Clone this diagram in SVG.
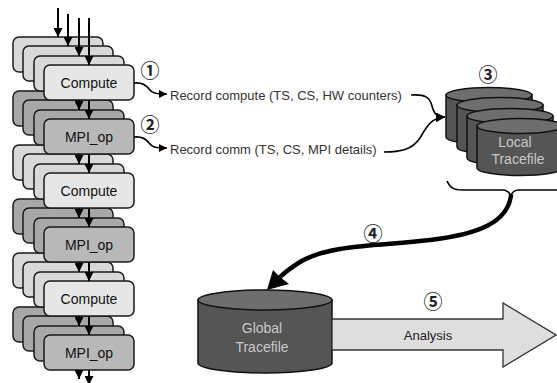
<svg xmlns="http://www.w3.org/2000/svg" width="557" height="383" viewBox="0 0 557 383">
<style>
.cb{fill:#d9d9d9;stroke:#1a1a1a;stroke-width:1.5}
.cf{fill:#e6e6e6;stroke:#1a1a1a;stroke-width:1.5}
.mb{fill:#a8a8a8;stroke:#1a1a1a;stroke-width:1.5}
.mf{fill:#b8b8b8;stroke:#1a1a1a;stroke-width:1.5}
.lbl{font-family:"Liberation Sans",Arial,sans-serif;font-size:14px;fill:#111;text-anchor:middle}
.rec{font-family:"Liberation Sans",Arial,sans-serif;font-size:13px;fill:#333}
.num{font-family:"Noto Sans CJK SC","DejaVu Sans",sans-serif;font-size:19px;font-weight:bold;fill:#222;text-anchor:middle;dominant-baseline:central}
.cyl{fill:#555;stroke:#111;stroke-width:1.5}
.cylt{fill:#6e6e6e;stroke:#111;stroke-width:1.5}
.ct{font-family:"Liberation Sans",Arial,sans-serif;font-size:14px;fill:#c8c8c8;text-anchor:middle}
.ar{stroke:#000;stroke-width:2;fill:none;marker-end:url(#ah)}
.thin{stroke:#000;stroke-width:1.6;fill:none}
</style>
<defs>
<marker id="ah" markerUnits="userSpaceOnUse" markerWidth="9" markerHeight="9" viewBox="0 0 10 10" refX="10" refY="5" orient="auto"><path d="M0,0L10,5L0,10z" fill="#000"/></marker>
<marker id="sh" markerUnits="userSpaceOnUse" markerWidth="8" markerHeight="8" viewBox="0 0 10 10" refX="10" refY="5" orient="auto"><path d="M0,0L10,5L0,10z" fill="#000"/></marker>
</defs>
<g id="mpi3"><rect class="mb" x="13" y="307" width="90" height="35" rx="6"/><rect class="mb" x="23" y="316" width="90" height="35" rx="6"/><rect class="mb" x="34" y="326" width="90" height="35" rx="6"/><rect class="mf" x="44" y="335" width="90" height="35" rx="6"/><text class="lbl" x="89" y="357.5">MPI_op</text></g>
<g id="compute3"><rect class="cb" x="13" y="253" width="90" height="35" rx="6"/><rect class="cb" x="23" y="262" width="90" height="35" rx="6"/><rect class="cb" x="34" y="272" width="90" height="35" rx="6"/><rect class="cf" x="44" y="281" width="90" height="35" rx="6"/><text class="lbl" x="89" y="303.5">Compute</text></g>
<g id="mpi2"><rect class="mb" x="13" y="199" width="90" height="35" rx="6"/><rect class="mb" x="23" y="208" width="90" height="35" rx="6"/><rect class="mb" x="34" y="218" width="90" height="35" rx="6"/><rect class="mf" x="44" y="227" width="90" height="35" rx="6"/><text class="lbl" x="89" y="249.5">MPI_op</text></g>
<g id="compute2"><rect class="cb" x="13" y="145" width="90" height="35" rx="6"/><rect class="cb" x="23" y="154" width="90" height="35" rx="6"/><rect class="cb" x="34" y="164" width="90" height="35" rx="6"/><rect class="cf" x="44" y="173" width="90" height="35" rx="6"/><text class="lbl" x="89" y="195.5">Compute</text></g>
<g id="mpi1"><rect class="mb" x="13" y="91" width="90" height="35" rx="6"/><rect class="mb" x="23" y="100" width="90" height="35" rx="6"/><rect class="mb" x="34" y="110" width="90" height="35" rx="6"/><rect class="mf" x="44" y="119" width="90" height="35" rx="6"/><text class="lbl" x="89" y="141.5">MPI_op</text></g>
<g id="compute1"><rect class="cb" x="13" y="37" width="90" height="35" rx="6"/><rect class="cb" x="23" y="46" width="90" height="35" rx="6"/><rect class="cb" x="34" y="56" width="90" height="35" rx="6"/><rect class="cf" x="44" y="65" width="90" height="35" rx="6"/><text class="lbl" x="89" y="87.5">Compute</text></g>

<g id="local-tracefiles">
<path class="cyl" d="M446,95V137A43,7.5 0 0 0 532,137V95Z"/><ellipse class="cylt" cx="489" cy="95" rx="43" ry="7.5"/>
<path class="cyl" d="M457,105V147A43,7.5 0 0 0 543,147V105Z"/><ellipse class="cylt" cx="500" cy="105" rx="43" ry="7.5"/>
<path class="cyl" d="M467,116V158A43,7.5 0 0 0 553,158V116Z"/><ellipse class="cylt" cx="510" cy="116" rx="43" ry="7.5"/>
<path class="cyl" d="M477,126V168A43,7.5 0 0 0 563,168V126Z"/><ellipse class="cylt" cx="520" cy="126" rx="43" ry="7.5"/>
<text class="ct" x="515" y="147">Local</text><text class="ct" x="518" y="164">Tracefile</text>
</g>

<g id="global-tracefile">
<path class="cyl" d="M198,300V363A67,10 0 0 0 332,363V300Z"/><ellipse class="cylt" cx="265" cy="300" rx="67" ry="10"/>
<text class="ct" x="262" y="333">Global</text><text class="ct" x="262" y="352">Tracefile</text>
</g>

<g id="analysis">
<path d="M332,319H503V303L556,335L503,367V350H332Z" fill="#dedede" stroke="#333" stroke-width="1.3"/>
<text class="rec" x="428" y="340" text-anchor="middle" style="fill:#222">Analysis</text>
</g>

<g id="connectors">
<line class="ar" x1="58" y1="8" x2="58" y2="37"/>
<line class="ar" x1="68" y1="14" x2="68" y2="46"/>
<line class="ar" x1="79" y1="18" x2="79" y2="56"/>
<line class="ar" x1="89" y1="18" x2="89" y2="65"/>
<line class="ar" x1="79" y1="100" x2="79" y2="110"/><line class="ar" x1="89" y1="100" x2="89" y2="119"/>
<line class="ar" x1="79" y1="154" x2="79" y2="164"/><line class="ar" x1="89" y1="154" x2="89" y2="173"/>
<line class="ar" x1="79" y1="208" x2="79" y2="218"/><line class="ar" x1="89" y1="208" x2="89" y2="227"/>
<line class="ar" x1="79" y1="262" x2="79" y2="272"/><line class="ar" x1="89" y1="262" x2="89" y2="281"/>
<line class="ar" x1="79" y1="316" x2="79" y2="326"/><line class="ar" x1="89" y1="316" x2="89" y2="335"/>
<line class="ar" x1="79" y1="370" x2="79" y2="379"/><line class="ar" x1="89" y1="370" x2="89" y2="385"/>
<path class="thin" marker-end="url(#sh)" d="M134,83C142,82 146,85 149,89C152,93 155,94 167,94"/>
<path class="thin" marker-end="url(#sh)" d="M134,137C142,136 146,139 149,143C152,147 155,148 167,148"/>
<path class="thin" marker-end="url(#ah)" d="M411,95C426,94 430,98 432,106C434,114 437,117 445,117"/>
<path class="thin" marker-end="url(#ah)" d="M384,152C400,152 412,150 420,138C428,124 432,118 445,117"/>
<path class="thin" stroke-width="2" d="M447,181C450,188 454,190 462,190L503,190C507,190 509,192 511,196C512,192 514,190 519,190L560,190"/>
<path d="M511,196C507,222 480,234 430,240C380,246 330,244 300,262C292,267 285,272 279,278" fill="none" stroke="#000" stroke-width="4.5" stroke-linecap="round"/>
<path d="M267,290L273,270L280,277L289,284Z" fill="#000"/>
</g>

<g id="labels">
<text class="rec" x="170" y="100">Record compute (TS, CS, HW counters)</text>
<text class="rec" x="170" y="154">Record comm (TS, CS, MPI details)</text>
<text class="num" x="150" y="69">①</text>
<text class="num" x="150" y="123">②</text>
<text class="num" x="488" y="73">③</text>
<text class="num" x="373" y="232">④</text>
<text class="num" x="433" y="300">⑤</text>
</g>
</svg>
